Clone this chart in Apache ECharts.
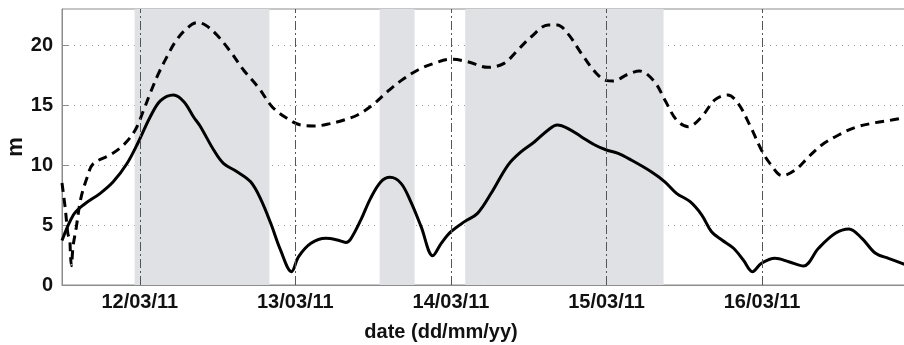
<!DOCTYPE html>
<html>
<head>
<meta charset="utf-8">
<script src="https://cdn.jsdelivr.net/npm/echarts@6/dist/echarts.min.js"></script>
<style>html,body{margin:0;padding:0;background:#fff}#c{width:904px;height:345px}</style>
</head>
<body>
<div id="c"></div>
<script>
// x values: hours since 11/03/11 00:00
const dayTicks = [24, 48, 72, 96, 120];
const dayLabels = ['12/03/11', '13/03/11', '14/03/11', '15/03/11', '16/03/11'];
const yTicks = [0, 5, 10, 15, 20];
const xTitle = 'date (dd/mm/yy)';
const yTitle = 'm';

const solidX = [12.0, 13.75, 15.3, 17.9, 19.9, 22.0, 23.8, 25.6, 27.2, 29.2, 30.8, 32.3, 33.3, 35.4, 36.9, 39.0, 41.1, 42.6, 44.2, 45.7, 47.4, 48.5, 50.4, 52.7, 54.5, 55.8, 56.5, 58.1, 59.6, 61.2, 62.6, 64.3, 65.8, 67.4, 69.2, 70.5, 72.0, 74.1, 76.1, 78.2, 80.8, 82.8, 84.9, 87.0, 88.4, 90.0, 92.1, 94.2, 96.0, 97.8, 99.8, 102.9, 105.0, 106.8, 108.9, 110.7, 112.2, 113.8, 115.6, 117.1, 118.5, 119.9, 122.0, 124.1, 126.4, 128.7, 131.3, 133.4, 135.4, 137.5, 139.5, 142.2];
const solidY = [3.7, 5.83, 6.67, 7.64, 8.6, 10.1, 11.94, 14.0, 15.36, 15.83, 15.28, 14.0, 13.25, 11.25, 10.14, 9.44, 8.6, 7.22, 5.14, 2.92, 1.11, 2.36, 3.47, 3.89, 3.75, 3.55, 3.8, 5.42, 7.22, 8.6, 8.97, 8.47, 6.94, 4.86, 2.44, 3.47, 4.44, 5.28, 5.97, 7.64, 10.0, 11.1, 11.94, 12.92, 13.33, 13.06, 12.36, 11.67, 11.25, 10.97, 10.42, 9.44, 8.6, 7.64, 6.94, 5.83, 4.44, 3.75, 3.06, 2.08, 1.11, 1.81, 2.22, 1.94, 1.58, 3.06, 4.31, 4.67, 3.89, 2.64, 2.22, 1.67];

const dashX = [12.0, 12.5, 12.9, 13.2, 13.3, 13.45, 13.7, 14.2, 14.9, 15.9, 16.8, 19.4, 21.5, 23.3, 24.6, 25.6, 26.9, 28.2, 29.5, 31.0, 32.8, 34.1, 35.9, 38.0, 40.0, 42.4, 44.4, 46.7, 48.8, 50.9, 52.9, 55.5, 57.6, 59.9, 62.2, 64.3, 66.9, 69.4, 72.0, 74.6, 77.7, 80.2, 82.3, 84.4, 87.0, 88.4, 90.0, 92.1, 94.2, 96.0, 97.0, 99.3, 101.1, 103.4, 105.0, 106.8, 108.6, 110.7, 112.7, 114.7, 116.3, 118.1, 119.9, 121.2, 123.1, 125.1, 127.2, 129.2, 131.8, 134.4, 137.5, 140.0, 142.2];
const dashY = [8.5, 6.4, 4.3, 3.7, 2.6, 1.6, 3.2, 4.8, 7.2, 9.0, 10.1, 10.83, 11.67, 12.92, 14.58, 15.97, 17.64, 19.03, 20.28, 21.25, 21.86, 21.67, 20.83, 19.44, 17.92, 16.39, 14.86, 13.89, 13.33, 13.25, 13.39, 13.75, 14.17, 15.0, 16.11, 17.03, 17.92, 18.47, 18.81, 18.61, 18.14, 18.47, 19.58, 20.69, 21.67, 21.67, 20.97, 19.31, 17.78, 17.03, 17.0, 17.56, 17.83, 16.94, 15.42, 13.75, 13.19, 14.03, 15.42, 15.83, 15.14, 13.33, 11.25, 10.14, 9.11, 9.58, 10.69, 11.67, 12.5, 13.14, 13.53, 13.75, 13.97];

// shaded periods (hours since 11/03/11 00:00)
const bandStart = [23.2, 61.0, 74.2];
const bandEnd = [44.0, 66.4, 104.8];

const xMin = 12, xMax = 142.2;
const font = 'Liberation Sans, Arial, sans-serif';

const chart = echarts.init(document.getElementById('c'), null, {renderer: 'canvas'});
chart.setOption({
  animation: false,
  grid: {left: 62, top: 9, right: -2, bottom: 60, outerBoundsMode: 'none', containLabel: false,
    show: true, borderColor: '#8c8c8c', borderWidth: 1, backgroundColor: 'transparent'},
  graphic: [{
    type: 'text', x: 441, y: 332, z: 10,
    style: {text: xTitle, align: 'center', verticalAlign: 'middle',
      font: 'bold 20px Liberation Sans, Arial, sans-serif', fill: '#111'}
  }, {
    type: 'text', x: 16, y: 147, rotation: Math.PI / 2, z: 10,
    style: {text: yTitle, align: 'center', verticalAlign: 'middle',
      font: 'bold 22px Liberation Sans, Arial, sans-serif', fill: '#111'}
  }],
  xAxis: {
    type: 'value', min: xMin, max: xMax,
    axisLine: {show: true, lineStyle: {color: '#8c8c8c', width: 1}},
    axisTick: {show: true, inside: true, length: 5, customValues: dayTicks, lineStyle: {color: '#8c8c8c'}},
    axisLabel: {customValues: dayTicks, margin: 7, fontFamily: font, fontWeight: 'bold', fontSize: 20, color: '#111',
      formatter: v => dayLabels[dayTicks.indexOf(v)] || ''},
    splitLine: {show: false}
  },
  yAxis: {
    type: 'value', min: 0, max: 23,
    axisLine: {show: true, lineStyle: {color: '#8c8c8c', width: 1}},
    axisTick: {show: true, inside: true, length: 6, customValues: yTicks, lineStyle: {color: '#8c8c8c'}},
    axisLabel: {customValues: yTicks, margin: 9, fontFamily: font, fontWeight: 'bold', fontSize: 20, color: '#111'},
    splitLine: {show: true, customValues: yTicks, lineStyle: {color: '#9a9a9a', width: 1, type: [1, 5]}}
  },
  series: [
    {
      type: 'line', data: [], z: 1,
      markArea: {silent: true, itemStyle: {color: '#e0e1e4'},
        data: bandStart.map((s, i) => [{xAxis: s}, {xAxis: bandEnd[i]}])},
      markLine: {silent: true, symbol: 'none', label: {show: false},
        lineStyle: {color: '#555', width: 1, type: [9, 3, 2, 3]},
        data: dayTicks.map(d => ({xAxis: d}))}
    },
    {
      type: 'line', z: 3, showSymbol: false, smooth: 0.35,
      data: solidX.map((x, i) => [x, solidY[i]]),
      lineStyle: {color: '#000', width: 3}
    },
    {
      type: 'line', z: 3, showSymbol: false, smooth: 0.35,
      data: dashX.map((x, i) => [x, dashY[i]]),
      lineStyle: {color: '#000', width: 3, type: [9, 6]}
    }
  ]
});
</script>
</body>
</html>
